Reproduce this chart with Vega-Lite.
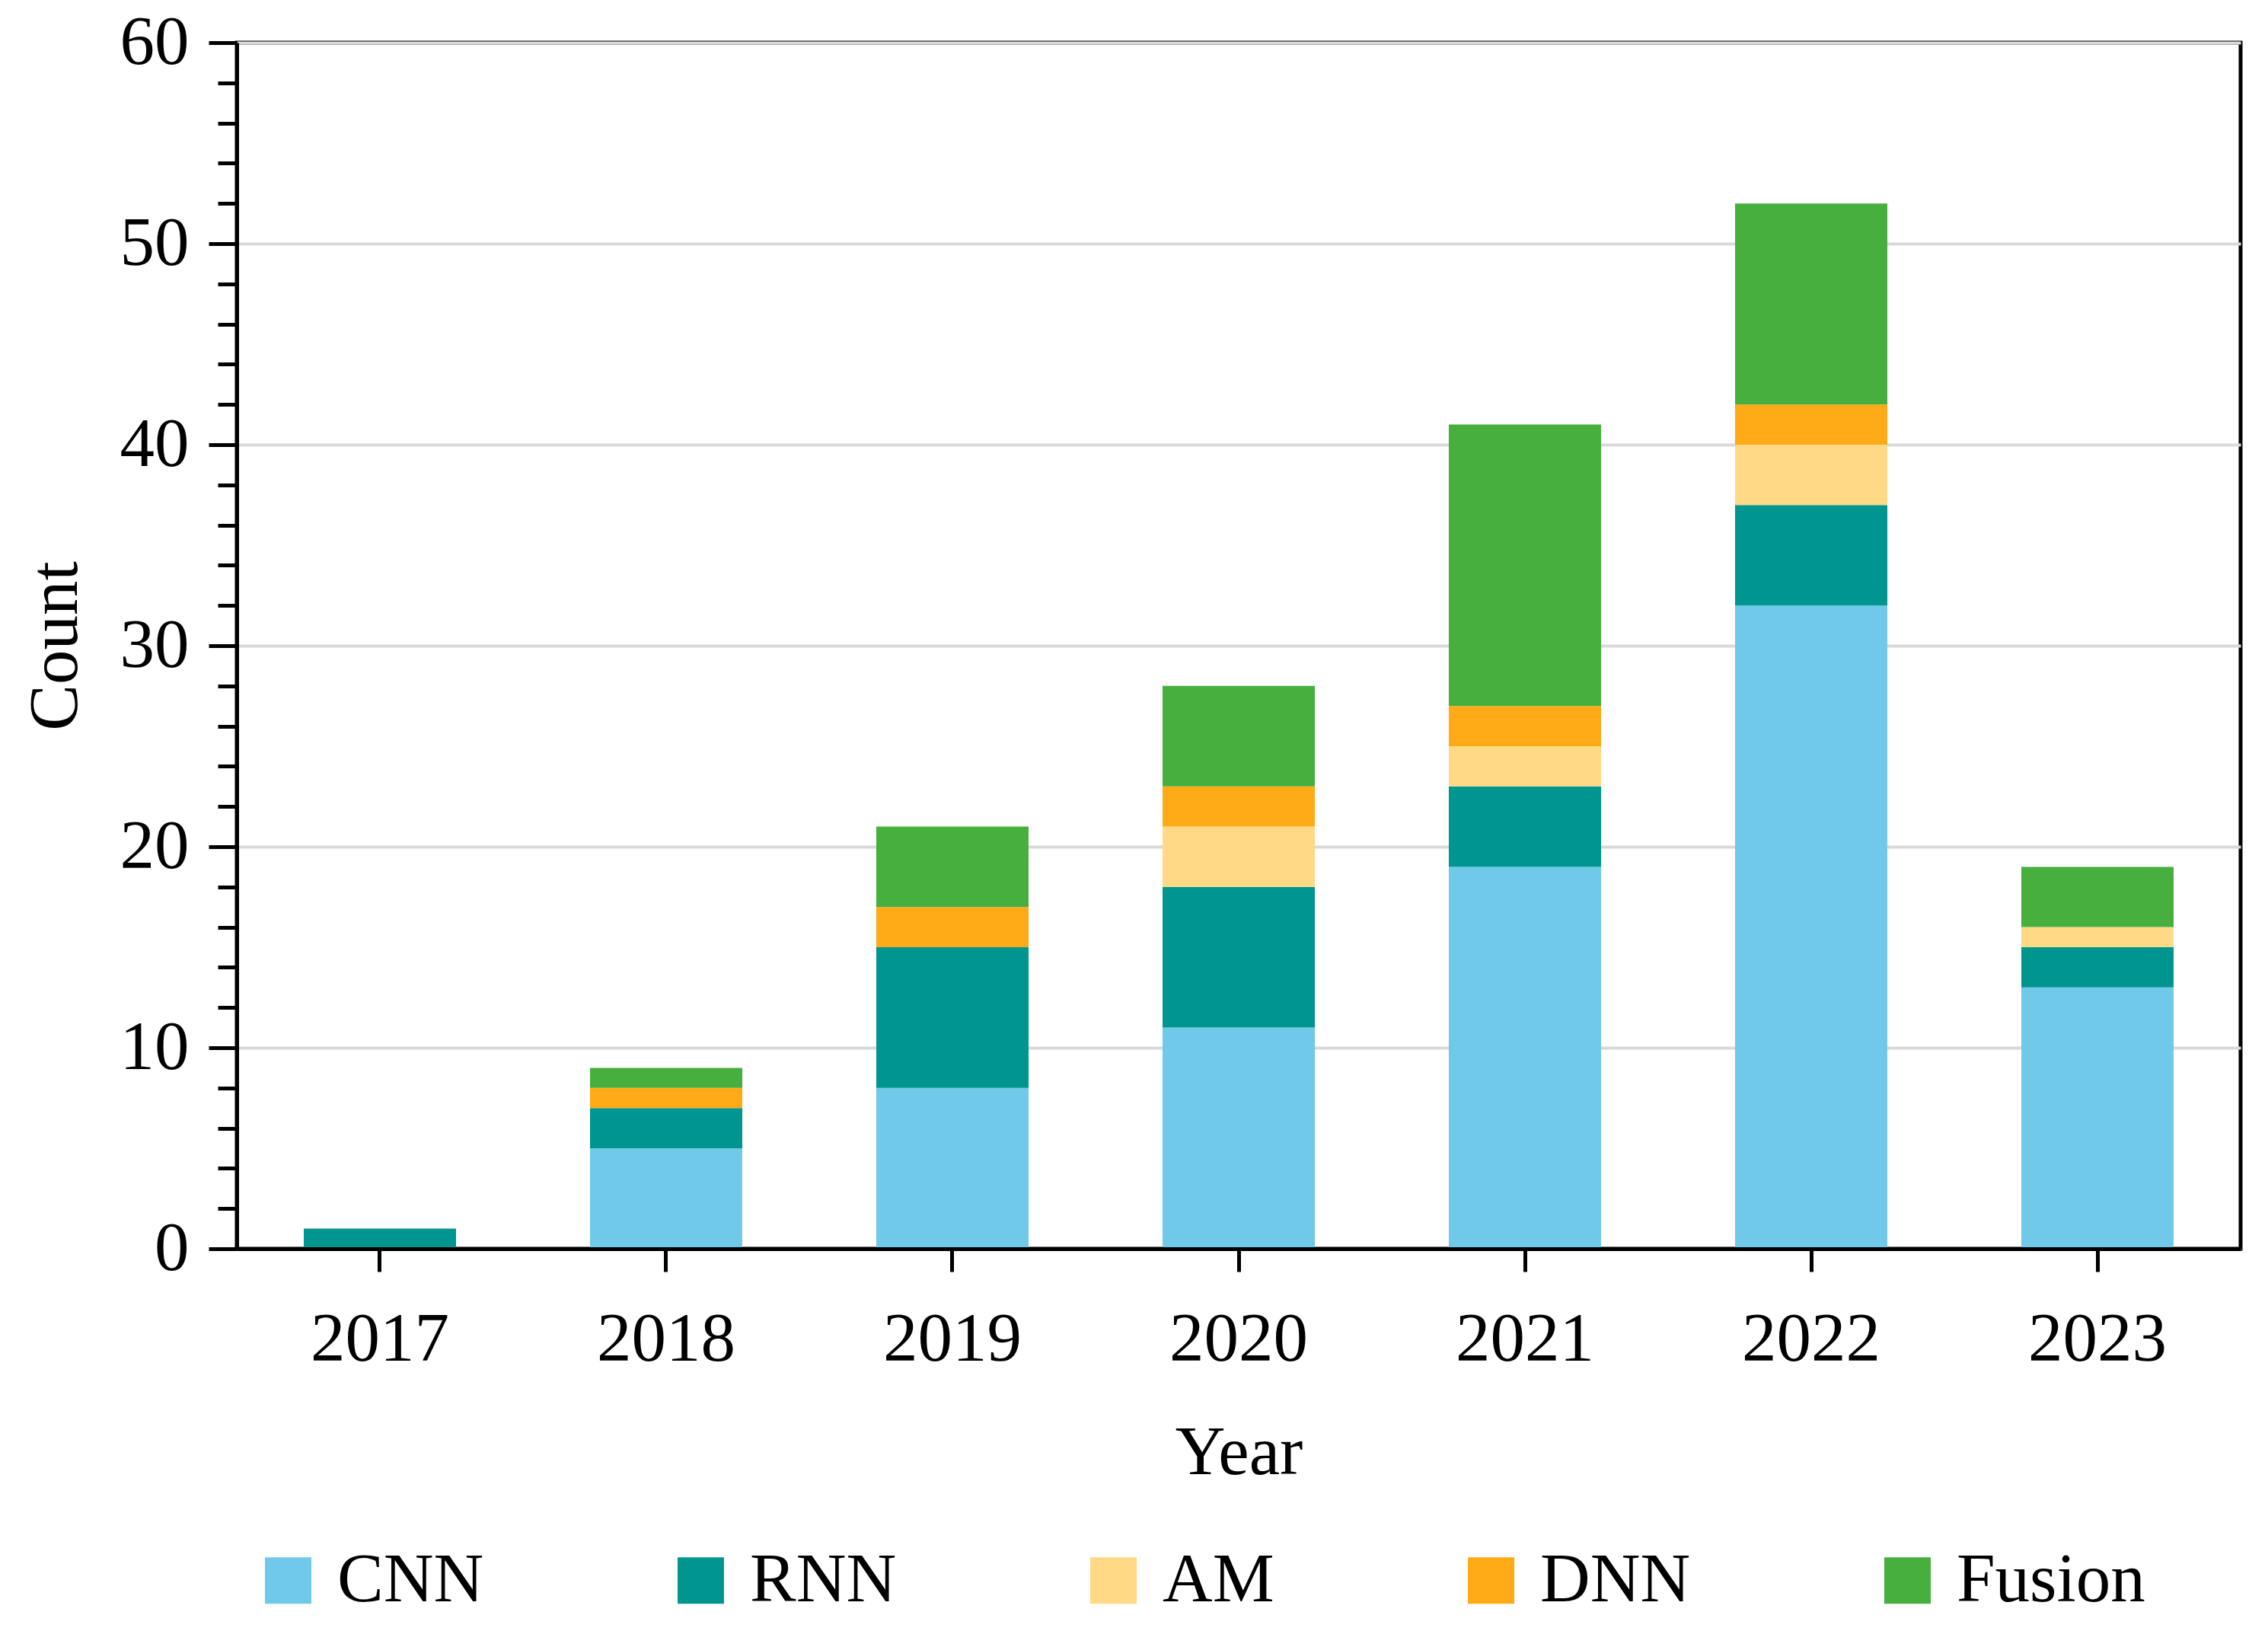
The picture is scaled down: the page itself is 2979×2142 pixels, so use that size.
{
  "$schema": "https://vega.github.io/schema/vega-lite/v6.json",
  "autosize": "none",
  "width": 2632,
  "height": 1584,
  "padding": {"left": 311, "top": 56, "right": 38, "bottom": 502},
  "background": "white",
  "config": {
    "font": "Liberation Serif",
    "view": {"stroke": "black", "strokeWidth": 5},
    "axis": {"labelFont": "Liberation Serif", "titleFont": "Liberation Serif", "labelColor": "black", "titleColor": "black", "labelFontSize": 91, "titleFontSize": 91, "titleFontWeight": "normal", "domainColor": "black", "domainWidth": 5, "tickColor": "black", "tickWidth": 5, "labelLimit": 1000},
    "legend": {"labelFont": "Liberation Serif", "labelFontSize": 91, "labelColor": "black", "labelLimit": 1000}
  },
  "data": {
    "values": [
      {"Year": "2017", "Type": "RNN", "Count": 1},
      {"Year": "2018", "Type": "CNN", "Count": 5},
      {"Year": "2018", "Type": "RNN", "Count": 2},
      {"Year": "2018", "Type": "DNN", "Count": 1},
      {"Year": "2018", "Type": "Fusion", "Count": 1},
      {"Year": "2019", "Type": "CNN", "Count": 8},
      {"Year": "2019", "Type": "RNN", "Count": 7},
      {"Year": "2019", "Type": "DNN", "Count": 2},
      {"Year": "2019", "Type": "Fusion", "Count": 4},
      {"Year": "2020", "Type": "CNN", "Count": 11},
      {"Year": "2020", "Type": "RNN", "Count": 7},
      {"Year": "2020", "Type": "AM", "Count": 3},
      {"Year": "2020", "Type": "DNN", "Count": 2},
      {"Year": "2020", "Type": "Fusion", "Count": 5},
      {"Year": "2021", "Type": "CNN", "Count": 19},
      {"Year": "2021", "Type": "RNN", "Count": 4},
      {"Year": "2021", "Type": "AM", "Count": 2},
      {"Year": "2021", "Type": "DNN", "Count": 2},
      {"Year": "2021", "Type": "Fusion", "Count": 14},
      {"Year": "2022", "Type": "CNN", "Count": 32},
      {"Year": "2022", "Type": "RNN", "Count": 5},
      {"Year": "2022", "Type": "AM", "Count": 3},
      {"Year": "2022", "Type": "DNN", "Count": 2},
      {"Year": "2022", "Type": "Fusion", "Count": 10},
      {"Year": "2023", "Type": "CNN", "Count": 13},
      {"Year": "2023", "Type": "RNN", "Count": 2},
      {"Year": "2023", "Type": "AM", "Count": 1},
      {"Year": "2023", "Type": "Fusion", "Count": 3}
    ]
  },
  "transform": [
    {"calculate": "indexof(['CNN', 'RNN', 'AM', 'DNN', 'Fusion'], datum.Type)", "as": "stackOrder"}
  ],
  "mark": {"type": "bar", "strokeWidth": 0},
  "encoding": {
    "x": {
      "field": "Year", "type": "ordinal",
      "scale": {"paddingInner": 0.468, "paddingOuter": 0.234},
      "axis": {"title": "Year", "labelAngle": 0, "tickSize": 30, "bandPosition": 0.5, "labelPadding": 44, "grid": false, "zindex": 1, "titleBaseline": "alphabetic", "titleX": 1316, "titleY": 295}
    },
    "y": {
      "field": "Count", "type": "quantitative", "aggregate": "sum",
      "scale": {"domain": [0, 60], "nice": false},
      "axis": {
        "title": "Count",
        "values": [0, 2, 4, 6, 8, 10, 12, 14, 16, 18, 20, 22, 24, 26, 28, 30, 32, 34, 36, 38, 40, 42, 44, 46, 48, 50, 52, 54, 56, 58, 60],
        "labelExpr": "datum.value % 10 === 0 ? datum.label : ''",
        "tickSize": {"condition": {"test": "datum.value % 10 === 0", "value": 37}, "value": 25},
        "labelPadding": 26,
        "grid": true,
        "gridColor": "#d9d9d9",
        "gridWidth": 4,
        "gridOpacity": {"condition": {"test": "datum.value % 10 === 0", "value": 1}, "value": 0},
        "titleBaseline": "alphabetic",
        "titleAngle": -90,
        "titleX": -211,
        "titleY": 792
      }
    },
    "order": {"field": "stackOrder", "type": "quantitative", "sort": "ascending"},
    "color": {
      "field": "Type", "type": "nominal",
      "scale": {"domain": ["CNN", "RNN", "AM", "DNN", "Fusion"], "range": ["#71C9EA", "#00968F", "#FFD985", "#FFAA16", "#47AF3E"]},
      "legend": {
        "title": null,
        "orient": "none",
        "direction": "horizontal",
        "legendX": 22,
        "legendY": 1974,
        "padding": 0,
        "symbolType": "square",
        "symbolSize": 3721,
        "symbolStrokeWidth": 0,
        "symbolOpacity": 1,
        "labelOffset": 19,
        "columnPadding": 239
      }
    }
  }
}
